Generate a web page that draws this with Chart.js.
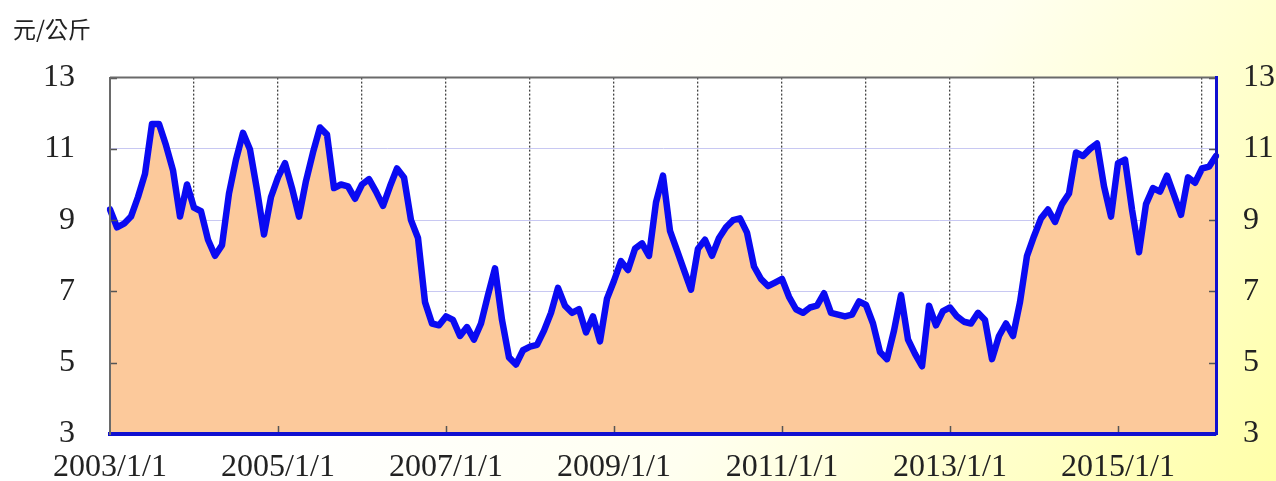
<!DOCTYPE html>
<html>
<head>
<meta charset="utf-8">
<script src="https://cdn.jsdelivr.net/npm/chart.js@4/dist/chart.umd.min.js"></script>
<style>
html,body{margin:0;padding:0;background:#fff;}
#wrap{width:1276px;height:481px;}
</style>
</head>
<body>
<div id="wrap"><canvas id="c" width="1276" height="481"></canvas></div>
<script>
// ---- data ----
const startYear = 2003;
const monthCount = 159; // 2003/1 .. 2016/3
const categories = [];
for (let i = 0; i < monthCount; i++) {
  categories.push((startYear + Math.floor(i / 12)) + '/' + (i % 12 + 1) + '/1');
}
const prices = [
  9.3, 8.8, 8.9, 9.1, 9.65, 10.3, 11.7, 11.7, 11.1, 10.4, 9.1, 10.0,
  9.35, 9.25, 8.45, 8.0, 8.3, 9.75, 10.7, 11.45, 10.98, 9.85, 8.6, 9.65,
  10.2, 10.6, 9.9, 9.1, 10.1, 10.9, 11.6, 11.4, 9.9, 10.0, 9.95, 9.6,
  10.0, 10.15, 9.8, 9.4, 9.95, 10.45, 10.2, 9.0, 8.5, 6.7, 6.1, 6.05,
  6.3, 6.2, 5.75, 6.0, 5.65, 6.1, 6.9, 7.65, 6.2, 5.15, 4.95, 5.35,
  5.45, 5.5, 5.9, 6.4, 7.1, 6.6, 6.4, 6.5, 5.85, 6.3, 5.6, 6.8,
  7.3, 7.85, 7.6, 8.2, 8.35, 8.0, 9.5, 10.25, 8.7, 8.15, 7.6, 7.05,
  8.2, 8.45, 8.0, 8.5, 8.8, 9.0, 9.05, 8.65, 7.7, 7.35, 7.15, 7.25,
  7.35, 6.85, 6.5, 6.4, 6.55, 6.6, 6.95, 6.4, 6.35, 6.3, 6.35, 6.72,
  6.62, 6.1, 5.3, 5.1, 5.9, 6.9, 5.65, 5.25, 4.9, 6.6, 6.05, 6.45,
  6.55, 6.3, 6.15, 6.1, 6.4, 6.2, 5.1, 5.75, 6.1, 5.75, 6.7, 8.0,
  8.55, 9.05, 9.3, 8.95, 9.45, 9.75, 10.9, 10.8, 11.0, 11.15, 9.95, 9.1,
  10.6, 10.7, 9.3, 8.1, 9.45, 9.9, 9.8, 10.25, 9.7, 9.15, 10.2, 10.05,
  10.45, 10.5, 10.8
];
const yMin = 3, yMax = 13, yStep = 2;
const unitLabel = '元/公斤';

// ---- styling ----
const serif = "'Liberation Serif', 'Times New Roman', serif";
const tickFont = { family: serif, size: 32 };
const labelColor = '#222222';
const frameColor = '#6a6a6a';
const lineBlue = '#0a0af2';

const decor = {
  id: 'decor',
  beforeDraw(chart) {
    const { ctx, chartArea: a, width, height } = chart;
    ctx.save();
    const g = ctx.createLinearGradient(600, 0, 1276, 481);
    g.addColorStop(0, '#ffffff');
    g.addColorStop(0.4, '#fffff0');
    g.addColorStop(1, '#ffffa8');
    ctx.fillStyle = g;
    ctx.fillRect(0, 0, width, height);
    ctx.fillStyle = '#ffffff';
    ctx.fillRect(a.left, a.top, a.right - a.left, a.bottom - a.top);
    ctx.restore();
  },
  afterDatasetsDraw(chart) {
    const { ctx, chartArea: a, scales } = chart;
    ctx.save();
    ctx.strokeStyle = '#555555';
    ctx.lineWidth = 1.5;
    ctx.beginPath();
    scales.y.ticks.forEach((t, i) => {
      const y = Math.round(scales.y.getPixelForTick(i)) + 0.5;
      ctx.moveTo(a.left, y); ctx.lineTo(a.left + 7, y);
      ctx.moveTo(a.right, y); ctx.lineTo(a.right - 7, y);
    });
    scales.x.ticks.forEach((t, i) => {
      if (i % 24 === 0 && i > 0) {
        const x = Math.round(scales.x.getPixelForTick(i)) + 0.5;
        ctx.moveTo(x, a.bottom); ctx.lineTo(x, a.bottom - 8);
      }
    });
    ctx.stroke();
    // top frame line
    ctx.strokeStyle = frameColor;
    ctx.lineWidth = 2;
    ctx.beginPath();
    ctx.moveTo(a.left, a.top); ctx.lineTo(a.right, a.top);
    ctx.stroke();
    ctx.restore();
  }
};

new Chart(document.getElementById('c'), {
  type: 'line',
  data: {
    labels: categories,
    datasets: [{
      data: prices,
      borderColor: lineBlue,
      borderWidth: 6.5,
      backgroundColor: '#fcc99b',
      fill: 'start',
      pointRadius: 0,
      tension: 0,
      borderJoinStyle: 'round',
      borderCapStyle: 'round',
      yAxisID: 'y'
    }]
  },
  plugins: [decor],
  options: {
    responsive: false,
    animation: false,
    layout: { padding: { left: 13, right: 0, top: 0, bottom: 0 } },
    plugins: {
      legend: { display: false },
      tooltip: { enabled: false },
      title: {
        display: true,
        text: unitLabel,
        align: 'start',
        color: labelColor,
        font: { family: "'Noto Sans CJK TC', 'Noto Sans CJK SC', sans-serif", size: 23, weight: 'normal' },
        padding: { top: 15, bottom: 35 }
      }
    },
    scales: {
      x: {
        type: 'category',
        offset: false,
        afterFit(s) { s.height = 47; },
        grid: {
          color: (c) => (c.index % 12 === 0 ? '#444444' : 'rgba(0,0,0,0)'),
          lineWidth: 1.3,
          drawTicks: false
        },
        border: { display: true, color: '#1010d0', width: 4, dash: [2, 2], z: 1 },
        ticks: {
          autoSkip: false,
          maxRotation: 0,
          minRotation: 0,
          padding: 14,
          color: labelColor,
          font: tickFont,
          callback: (v, i) => (i % 24 === 0 ? categories[i] : '')
        }
      },
      y: {
        position: 'left',
        min: yMin, max: yMax,
        afterFit(s) { s.width = 97; s.paddingTop = 0; s.paddingBottom = 0; },
        grid: { color: '#c8c8f2', lineWidth: 1, drawTicks: false },
        border: { display: true, color: frameColor, width: 2, z: 1 },
        ticks: { stepSize: yStep, padding: 35, color: labelColor, font: tickFont }
      },
      y2: {
        position: 'right',
        min: yMin, max: yMax,
        afterFit(s) { s.width = 60; s.paddingTop = 0; s.paddingBottom = 0; },
        grid: { drawOnChartArea: false, drawTicks: false },
        border: { display: true, color: '#1010d0', width: 3, z: 1 },
        ticks: { stepSize: yStep, padding: 27, color: labelColor, font: tickFont }
      }
    }
  }
});
</script>
</body>
</html>
